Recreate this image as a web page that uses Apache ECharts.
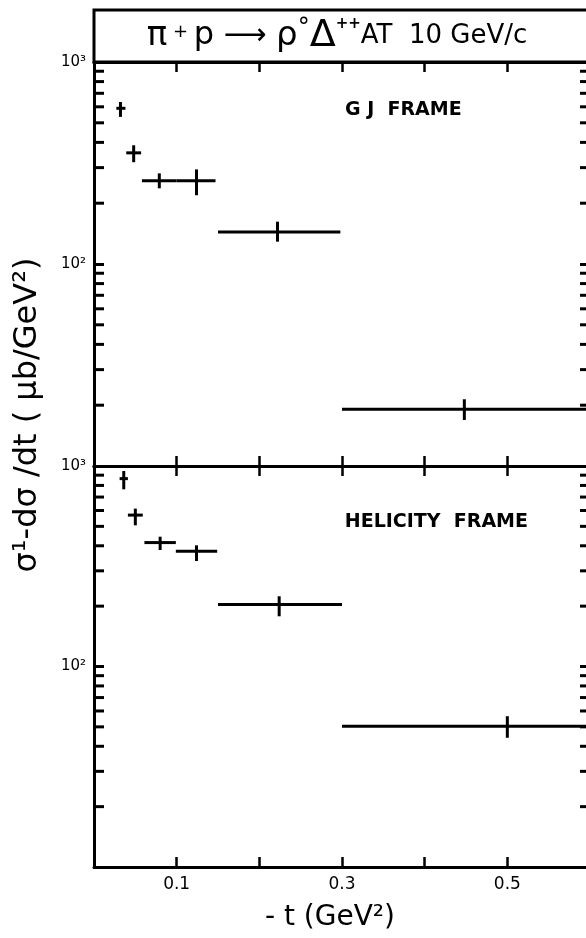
<!DOCTYPE html>
<html><head><meta charset="utf-8">
<script src="https://cdn.jsdelivr.net/npm/echarts@6/dist/echarts.min.js"></script>
<style>html,body{margin:0;padding:0;background:#fff}#c{width:586px;height:938px}</style>
</head><body><div id="c"></div>
<script>
// ---- data ----
const xTickLabels = ['0.1', '0.3', '0.5'];
const yTickLabels = { 1000: '10³', 100: '10²' };
const minorTickValues = [20, 30, 40, 50, 60, 70, 80, 90, 200, 300, 400, 500, 600, 700, 800, 900];

// GJ frame (upper panel)
const gjT     = [0.032, 0.048, 0.079, 0.124, 0.222, 0.448];
const gjTLow  = [0.027, 0.039, 0.058, 0.100, 0.150, 0.300];
const gjTHigh = [0.038, 0.057, 0.100, 0.147, 0.298, 0.600];
const gjY     = [590, 355, 258, 258, 144, 19.1];
const gjYLow  = [535, 319, 237, 219, 129, 16.9];
const gjYHigh = [634, 387, 281, 294, 162, 21.4];

// Helicity frame (lower panel)
const helT     = [0.036, 0.050, 0.080, 0.124, 0.224, 0.500];
const helTLow  = [0.031, 0.041, 0.061, 0.099, 0.150, 0.300];
const helTHigh = [0.041, 0.059, 0.099, 0.149, 0.300, 0.600];
const helY     = [865, 569, 415, 376, 204, 50.4];
const helYLow  = [765, 506, 381, 336, 178, 44.1];
const helYHigh = [944, 613, 444, 402, 224, 56.5];

const X_MIN = 0, X_MAX = 0.6;

function rows(t, tl, th, y, yl, yh) {
  return t.map((v, i) => [v, tl[i], th[i], y[i], yl[i], yh[i]]);
}

const FONT = 'DejaVu Sans';
const black = '#000';

function errRender(params, api) {
  const xc = api.value(0), xlo = api.value(1), xhi = api.value(2);
  const y = api.value(3), ylo = api.value(4), yhi = api.value(5);
  const a = api.coord([xlo, y]), b = api.coord([xhi, y]);
  const c = api.coord([xc, ylo]), d = api.coord([xc, yhi]);
  const style = { stroke: black, lineWidth: 3 };
  return { type: 'group', children: [
    { type: 'line', shape: { x1: a[0], y1: a[1], x2: b[0], y2: b[1] }, style },
    { type: 'line', shape: { x1: c[0], y1: c[1], x2: d[0], y2: d[1] }, style }
  ]};
}
function minorRender(params, api) {
  const v = api.value(1);
  const p = api.coord([X_MIN, v]), q = api.coord([X_MAX, v]);
  const style = { stroke: black, lineWidth: 3 };
  return { type: 'group', children: [
    { type: 'line', shape: { x1: p[0], y1: p[1], x2: p[0] + 10, y2: p[1] }, style },
    { type: 'line', shape: { x1: q[0], y1: q[1], x2: q[0] - 10, y2: q[1] }, style }
  ]};
}

function xAxis(gridIndex, position, showLabels) {
  return {
    type: 'value', gridIndex, position, min: X_MIN, max: X_MAX, interval: 0.1,
    axisLine: { show: true, onZero: false, lineStyle: { color: black, width: 3 } },
    axisTick: { show: true, inside: true, length: 10, lineStyle: { color: black, width: 2.5 } },
    splitLine: { show: false },
    axisLabel: {
      show: showLabels, margin: 9, color: black, fontFamily: FONT, fontSize: 17,
      formatter: v => xTickLabels.includes(v.toFixed(1)) ? v.toFixed(1) : ''
    }
  };
}
function yAxis(gridIndex, position, showLabels) {
  return {
    type: 'log', logBase: 10, gridIndex, position, min: 10, max: 1000,
    axisLine: { show: true, onZero: false, lineStyle: { color: black, width: 3 } },
    axisTick: { show: true, inside: true, length: 10, lineStyle: { color: black, width: 3 } },
    minorTick: { show: false },
    splitLine: { show: false },
    axisLabel: {
      show: showLabels, margin: 8, color: black, fontFamily: FONT, fontSize: 15,
      formatter: v => yTickLabels[Math.round(v)] || ''
    }
  };
}

const chart = echarts.init(document.getElementById('c'), null, { renderer: 'canvas' });
chart.setOption({
  backgroundColor: '#fff',
  animation: false,
  grid: [
    { left: 94, top: 62, width: 496, height: 404, containLabel: false, outerBoundsMode: 'none' },
    { left: 94, top: 466, width: 496, height: 401, containLabel: false, outerBoundsMode: 'none' }
  ],
  xAxis: [xAxis(0, 'bottom', false), xAxis(0, 'top', false), xAxis(1, 'bottom', true), xAxis(1, 'top', false)],
  yAxis: [yAxis(0, 'left', true), yAxis(0, 'right', false), yAxis(1, 'left', true), yAxis(1, 'right', false)],
  series: [
    { type: 'custom', xAxisIndex: 0, yAxisIndex: 0, renderItem: errRender, clip: false,
      encode: { x: [0, 1, 2], y: [3, 4, 5] }, data: rows(gjT, gjTLow, gjTHigh, gjY, gjYLow, gjYHigh) },
    { type: 'custom', xAxisIndex: 2, yAxisIndex: 2, renderItem: errRender, clip: false,
      encode: { x: [0, 1, 2], y: [3, 4, 5] }, data: rows(helT, helTLow, helTHigh, helY, helYLow, helYHigh) },
    { type: 'custom', xAxisIndex: 0, yAxisIndex: 0, renderItem: minorRender, clip: false, silent: true,
      data: minorTickValues.map(v => [X_MIN, v]) },
    { type: 'custom', xAxisIndex: 2, yAxisIndex: 2, renderItem: minorRender, clip: false, silent: true,
      data: minorTickValues.map(v => [X_MIN, v]) }
  ],
  graphic: [
    { type: 'rect', shape: { x: 94, y: 10, width: 500, height: 52 },
      style: { fill: 'none', stroke: black, lineWidth: 3 } },
    { type: 'text', x: 337, y: 36,
      style: {
        text: '{g|π}{s| + }{p|p}{a| ⟶ }{g|ρ}{o|°}{d|Δ}{pp|++}{t|AT  10 GeV/c}',
        align: 'center', verticalAlign: 'middle', fill: black, fontFamily: FONT,
        rich: {
          g: { fontSize: 34, fontFamily: FONT },
          s: { fontSize: 18, fontFamily: FONT, padding: [0, 0, 8, 0] },
          p: { fontSize: 32, fontFamily: FONT },
          a: { fontSize: 30, fontFamily: FONT },
          o: { fontSize: 24, fontFamily: FONT, verticalAlign: 'top' },
          d: { fontSize: 38, fontFamily: FONT },
          pp: { fontSize: 15, fontFamily: FONT, verticalAlign: 'top', fontWeight: 'bold' },
          t: { fontSize: 26, fontFamily: FONT }
        }
      } },
    { type: 'text', x: 345, y: 110,
      style: { text: 'G J  FRAME', fontFamily: FONT, fontSize: 19, fontWeight: 'bold',
        fill: black, align: 'left', verticalAlign: 'middle' } },
    { type: 'text', x: 528, y: 522,
      style: { text: 'HELICITY  FRAME', fontFamily: FONT, fontSize: 19, fontWeight: 'bold',
        fill: black, align: 'right', verticalAlign: 'middle' } },
    { type: 'text', x: 28, y: 415, rotation: Math.PI / 2,
      style: { text: 'σ¹-dσ /dt ( μb/GeV²)', fontFamily: FONT, fontSize: 32,
        fill: black, align: 'center', verticalAlign: 'middle' } },
    { type: 'text', x: 330, y: 918,
      style: { text: '- t (GeV²)', fontFamily: FONT, fontSize: 28,
        fill: black, align: 'center', verticalAlign: 'middle' } }
  ]
});
</script></body></html>
